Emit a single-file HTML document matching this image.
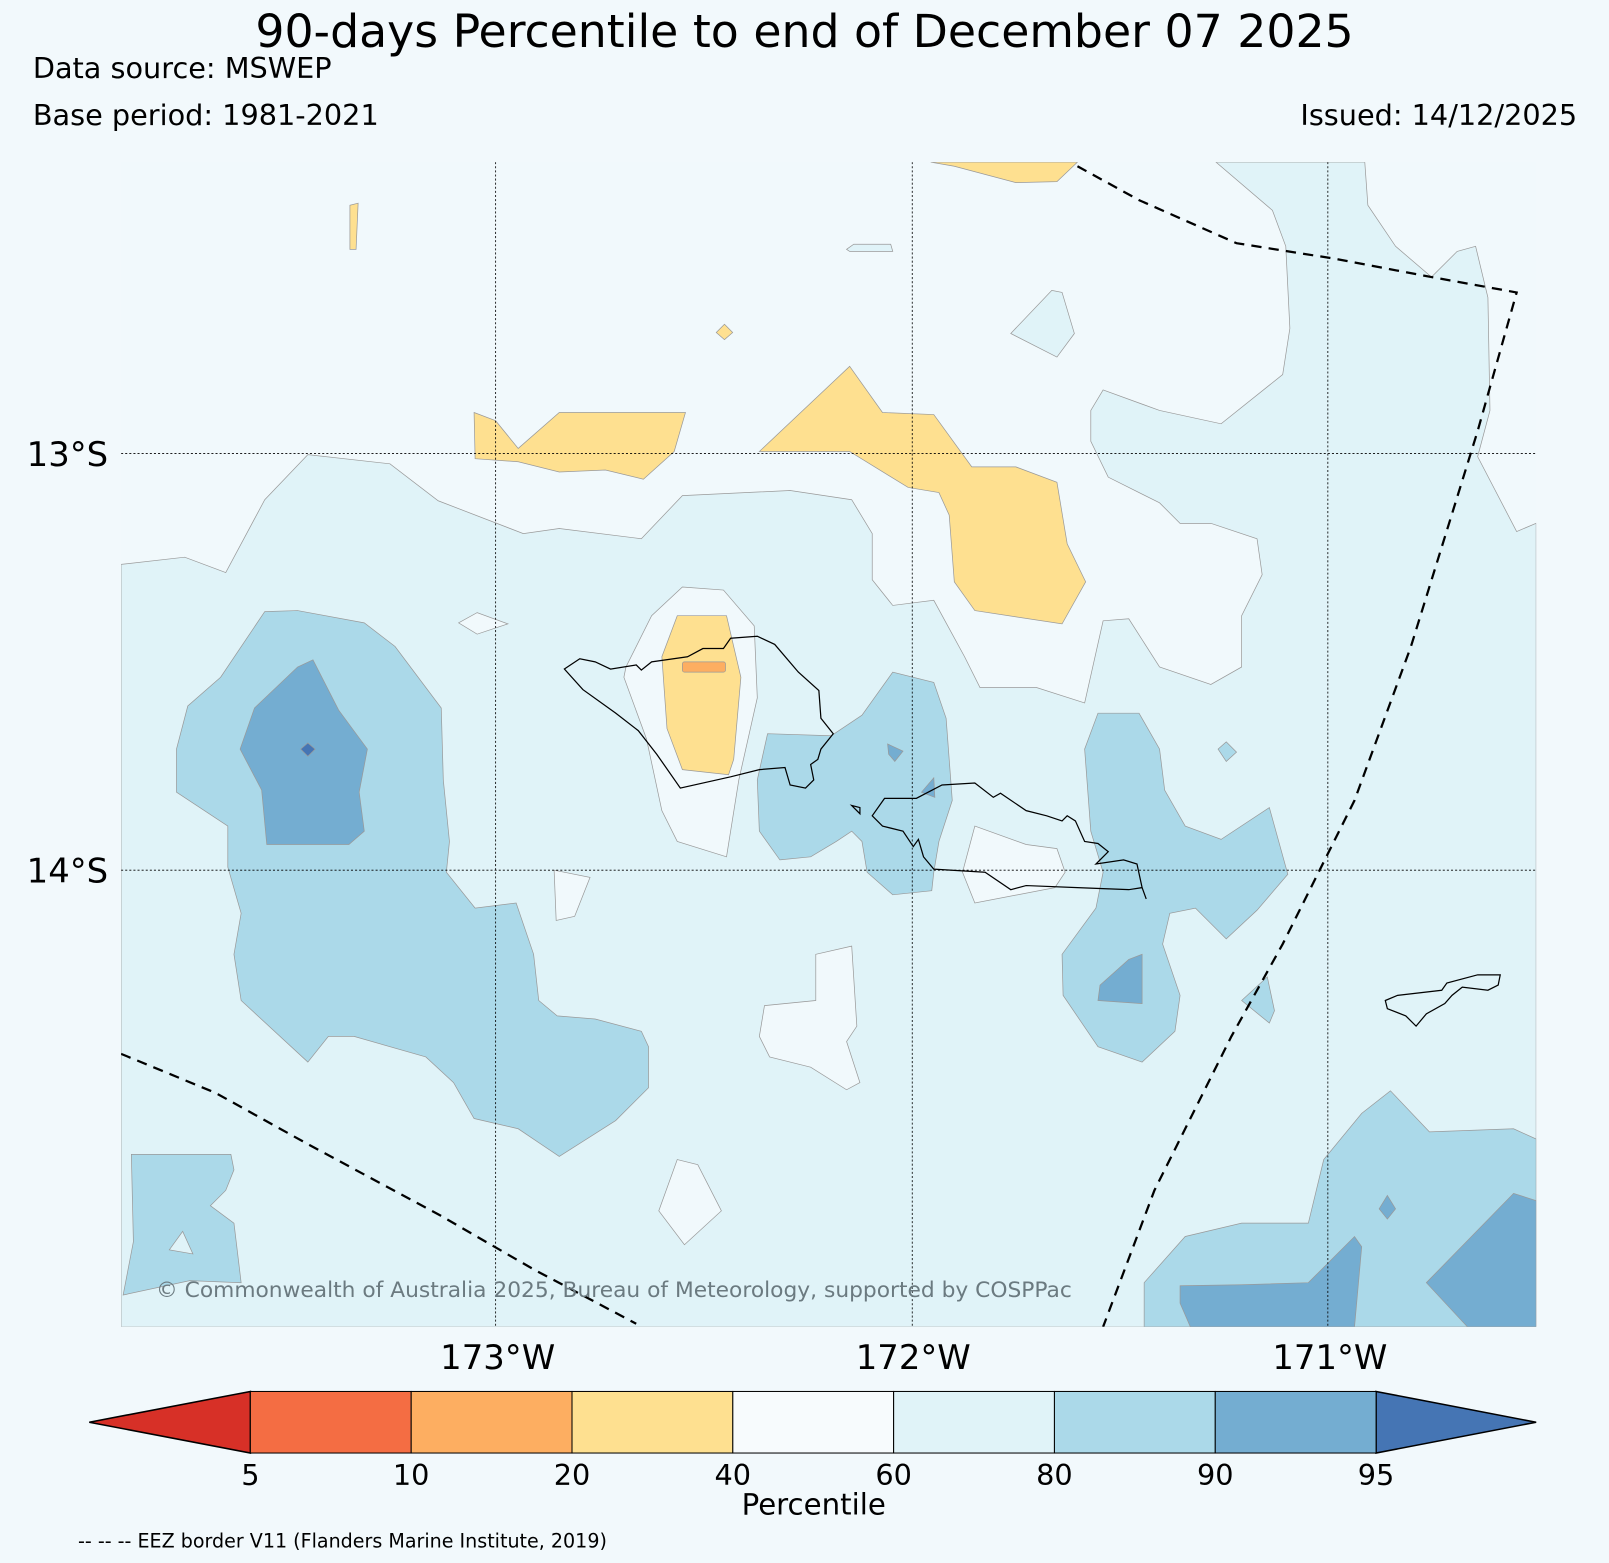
<!DOCTYPE html>
<html><head><meta charset="utf-8"><style>
html,body{margin:0;padding:0;background:#f2f9fc;}
svg{display:block;font-family:"DejaVu Sans","Liberation Sans",sans-serif;}
</style></head><body>
<svg width="1609" height="1563" viewBox="0 0 1609 1563">
<rect width="1609" height="1563" fill="#f2f9fc"/>
<g transform="scale(1.02615)">
<text x="784" y="46" font-size="44.6" text-anchor="middle">90-days Percentile to end of December 07 2025</text>
<text x="32" y="76" font-size="28">Data source: MSWEP</text>
<text x="32" y="122" font-size="28">Base period: 1981-2021</text>
<text x="1537" y="122" font-size="28" text-anchor="end">Issued: 14/12/2025</text>
<defs><clipPath id="mapclip"><rect x="118" y="158" width="1379" height="1135"/></clipPath></defs>
<g clip-path="url(#mapclip)" stroke="#999" stroke-width="0.7">
<rect x="118" y="158" width="1379" height="1135" fill="#f1f9fc" stroke="none"/>
<polygon fill="#e0f3f8" points="118,550 180,543 220,558 258,487 300,443 380,452 427,488 510,520 545,515 625,525 665,483 770,478 830,487 850,520 850,565 870,590 910,585 940,640 955,670 1010,670 1057,685 1075,605 1100,603 1130,650 1180,667 1210,650 1210,600 1230,560 1225,525 1180,510 1150,510 1130,490 1080,465 1063,430 1063,400 1075,380 1130,400 1190,413 1250,365 1257,320 1253,240 1240,205 1185,158 1330,158 1333,200 1360,240 1395,270 1420,245 1438,240 1450,290 1452,400 1440,445 1478,518 1497,510 1497,1293 118,1293"/>
<polygon fill="#f1f9fc" points="665,572 705,575 735,610 738,680 720,760 708,835 660,820 645,790 630,720 608,660 610,650 635,600"/>
<polygon fill="#fee090" points="660,600 708,600 722,660 715,740 710,755 665,750 650,710 645,640"/>
<rect x="665" y="645" width="42" height="10" rx="2" fill="#fdae61"/>
<polygon fill="#f1f9fc" points="950,805 1000,823 1030,827 1038,850 1028,865 950,880 938,850"/>
<polygon fill="#f1f9fc" points="540,848 575,855 560,893 542,897"/>
<polygon fill="#f1f9fc" points="795,930 830,922 835,1000 825,1015 838,1055 825,1062 790,1040 750,1030 740,1010 745,980 795,975"/>
<polygon fill="#f1f9fc" points="660,1130 680,1135 703,1180 667,1213 642,1180"/>
<polygon fill="#f1f9fc" points="447,607 465,597 495,608 465,618"/>
<polygon fill="#fee090" points="907,158 1050,158 1030,177 990,178 930,162"/>
<polygon fill="#fee090" points="341,200 349,198 347,243 341,243"/>
<polygon fill="#fee090" points="706,316 714,324 706,331 698,324"/>
<polygon fill="#fee090" points="462,402 483,410 505,437 545,402 668,402 657,440 627,467 590,458 545,460 505,450 463,447"/>
<polygon fill="#fee090" points="740,440 828,357 860,402 910,404 947,455 990,455 1030,470 1040,530 1058,567 1035,608 950,595 930,567 925,502 915,480 885,475 828,440"/>
<polygon fill="#e0f3f8" points="825,243 832,238 868,238 870,245 828,245"/>
<polygon fill="#e0f3f8" points="985,325 1025,283 1035,285 1047,325 1030,348"/>
<polygon fill="#abd9e9" points="258,596 290,595 355,607 385,630 430,690 432,760 438,820 435,850 463,885 503,880 520,930 525,975 543,990 580,993 625,1005 632,1020 632,1060 600,1092 545,1127 505,1100 462,1090 442,1055 415,1030 345,1010 320,1010 300,1035 235,975 228,930 235,890 222,845 222,805 172,772 172,730 183,688 215,660"/>
<polygon fill="#74add1" points="248,690 290,650 305,643 330,692 358,730 350,772 355,810 340,823 260,823 255,770 234,730"/>
<polygon fill="#4575b4" points="300,724 307,730 300,737 293,730"/>
<polygon fill="#abd9e9" points="748,715 810,717 840,697 870,655 910,665 922,700 928,780 915,820 910,850 908,868 870,872 845,850 840,820 830,810 815,820 790,835 760,838 740,810 738,760"/>
<polygon fill="#74add1" points="865,725 880,732 872,742 866,735"/>
<polygon fill="#74add1" points="910,758 911,777 898,772"/>
<polygon fill="#abd9e9" points="1070,695 1110,695 1130,730 1135,770 1155,805 1190,818 1237,787 1255,852 1225,887 1195,915 1165,885 1140,890 1133,920 1150,970 1145,1005 1113,1035 1070,1020 1036,970 1035,930 1068,885 1075,850 1063,810 1057,730"/>
<polygon fill="#74add1" points="1072,960 1100,935 1113,930 1113,978 1070,975"/>
<polygon fill="#abd9e9" points="1187,730 1195,723 1205,733 1195,742"/>
<polygon fill="#abd9e9" points="1210,975 1235,952 1242,985 1237,997"/>
<polygon fill="#abd9e9" points="1115,1250 1155,1205 1210,1192 1275,1192 1290,1130 1327,1085 1355,1063 1393,1103 1475,1100 1497,1110 1497,1293 1115,1293"/>
<polygon fill="#74add1" points="1150,1253 1210,1252 1275,1250 1320,1205 1327,1215 1320,1293 1160,1293 1150,1270"/>
<polygon fill="#74add1" points="1390,1250 1475,1163 1497,1170 1497,1293 1430,1293"/>
<polygon fill="#74add1" points="1352,1165 1360,1178 1352,1188 1344,1178"/>
<polygon fill="#abd9e9" points="128,1125 225,1125 228,1140 220,1160 205,1175 228,1192 235,1250 185,1248 120,1262 130,1210"/>
<polygon fill="#e0f3f8" points="165,1218 178,1200 188,1222"/>
<g fill="none" stroke="#000" stroke-width="1.2">
<polygon points="550,652 565,642 580,645 595,652 620,648 625,653 635,645 670,640 685,632 705,632 712,622 738,620 755,628 778,655 798,673 800,700 812,715 800,730 797,740 790,745 793,760 785,768 770,765 765,748 740,750 712,757 663,768 640,735 622,712 600,695 568,672"/>
<polyline points="1117,876 1113,865 1100,867 1050,865 1000,863 985,867 960,850 910,847 900,835 895,818 890,825 880,810 860,805 850,795 862,778 893,778 918,765 950,763 968,777 975,773 1000,790 1020,795 1035,800 1040,795 1048,800 1057,820 1070,822 1080,830 1068,842 1095,838 1108,842 1113,865"/>
<polygon points="830,785 838,787 838,793"/>
<polygon points="1350,975 1362,970 1405,965 1410,958 1440,950 1462,950 1460,960 1450,965 1425,962 1415,970 1408,978 1390,988 1380,1000 1370,990 1352,983"/>
</g>
<g stroke="#000" stroke-width="0.8" stroke-dasharray="2,2">
<line x1="483" y1="158" x2="483" y2="1293"/>
<line x1="889" y1="158" x2="889" y2="1293"/>
<line x1="1294" y1="158" x2="1294" y2="1293"/>
<line x1="118" y1="442" x2="1497" y2="442"/>
<line x1="118" y1="848" x2="1497" y2="848"/>
</g>
<g fill="none" stroke="#000" stroke-width="2.2" stroke-dasharray="10,7">
<polyline points="1050,162 1110,195 1205,237 1300,252 1395,270 1478,285 1440,420 1375,630 1320,780 1250,920 1200,1010 1125,1160 1075,1293"/>
<polyline points="118,1027 210,1065 300,1115 430,1185 520,1237 620,1290"/>
</g>
<text x="152" y="1264" font-size="21.2" fill="#6b7a80" stroke="none">© Commonwealth of Australia 2025, Bureau of Meteorology, supported by COSPPac</text>
</g>
<g font-size="33">
<text x="26" y="454">13°S</text>
<text x="26" y="860">14°S</text>
<text x="485" y="1334" text-anchor="middle">173°W</text>
<text x="890" y="1334" text-anchor="middle">172°W</text>
<text x="1296" y="1334" text-anchor="middle">171°W</text>
</g>
<g id="colorbar"></g>
<text x="793" y="1476" font-size="28.5" text-anchor="middle">Percentile</text>
<text x="76" y="1508" font-size="18.6">-- -- -- EEZ border V11 (Flanders Marine Institute, 2019)</text>
</g>
</svg>
<script>
const levels = [5, 10, 20, 40, 60, 80, 90, 95];
const binColors = ["#f46d43", "#fdae61", "#fee090", "#f7fbfd", "#e0f3f8", "#abd9e9", "#74add1"];
const underColor = "#d73027";
const overColor = "#4575b4";
(function(){
  const NS = "http://www.w3.org/2000/svg";
  const g = document.getElementById("colorbar");
  const x0 = 244, x1 = 1341, y0 = 1356, y1 = 1416, tri = 157;
  const step = (x1 - x0) / (levels.length - 1);
  const xAt = i => x0 + i * step;
  function mk(tag, attrs){ const e = document.createElementNS(NS, tag); for (const k in attrs) e.setAttribute(k, attrs[k]); g.appendChild(e); return e; }
  const lt = mk("polygon", {points: `${x0},${y0} ${x0-tri},${(y0+y1)/2} ${x0},${y1}`, fill: underColor, stroke: "#000", "stroke-width": 1.5});
  
  
  const rt = mk("polygon", {points: `${x1},${y0} ${x1+tri-1},${(y0+y1)/2} ${x1},${y1}`, fill: overColor, stroke: "#000", "stroke-width": 1.5});
  
  
  binColors.forEach((c, i) => {
    const r = mk("rect", {x: xAt(i), y: y0, width: step, height: y1 - y0, fill: c, stroke: "#000", "stroke-width": 1});
    
    
  });
  levels.forEach((v, i) => {
    const t = mk("text", {x: xAt(i), y: 1447, "font-size": 28, "text-anchor": "middle"});
    t.textContent = v;
    
    
  });
})();
</script>
</body></html>
